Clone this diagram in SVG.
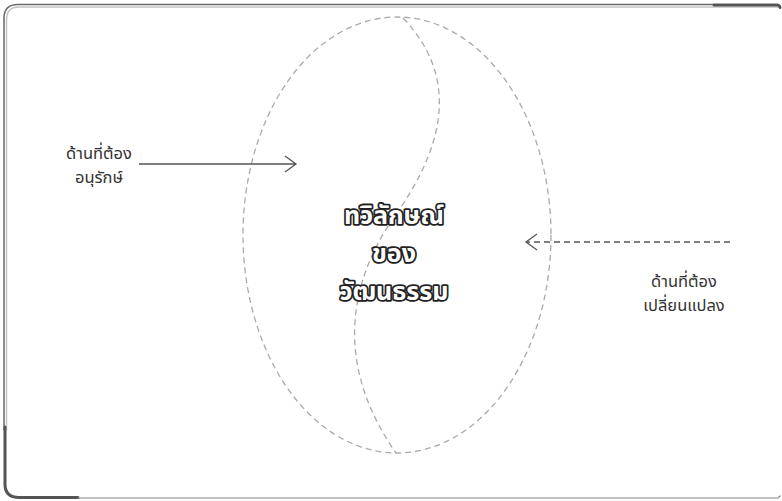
<svg xmlns="http://www.w3.org/2000/svg" width="782" height="501" viewBox="0 0 782 501">
<style>
.lbl{font-family:"Noto Sans","Noto Sans Thai",sans-serif;font-size:16.5px;fill:#333;text-anchor:middle}
.ttl{font-family:"Noto Sans","Noto Sans Thai",sans-serif;font-size:25px;font-weight:bold;fill:#fff;stroke:#222;stroke-width:3.6;paint-order:stroke;stroke-linejoin:round;text-anchor:middle}
.dash{fill:none;stroke:#aaa;stroke-width:1.3;stroke-dasharray:6 4}
.arr{fill:none;stroke:#555;stroke-width:1.3}
</style>
<rect width="782" height="501" fill="#fff"/>
<g id="frame" fill="none" stroke-linecap="round">
<path d="M6.5,430 V20 Q6.5,7 19,7 H778" stroke="#c4c4c4" stroke-width="1.5"/>
<path d="M4,430 V18 Q4,4.5 18,4.5 H714" stroke="#6a6a6a" stroke-width="1.5"/>
<path d="M714,5 H777 Q779.5,5 780,7.5" stroke="#555" stroke-width="3"/>
<path d="M5,427 V484 Q5,497.5 19,497.5 H78" stroke="#555" stroke-width="3"/>
<path d="M78,498 H778 L780,496" stroke="#888" stroke-width="1.2"/>
</g>
<g id="vessel">
<ellipse class="dash" cx="397" cy="235" rx="154" ry="218"/>
<path class="dash" d="M403,18 C472,90 428,170 392,220 C345,290 338,370 396,453"/>
</g>
<g id="connectors">
<path class="arr" d="M139,164 H296 M285,156 L296,164 L285,172"/>
<path class="arr" d="M730,242 H526" stroke-dasharray="6 4"/>
<path class="arr" d="M537,234 L526,242 L537,250"/>
</g>
<g id="node-conserve">
<text class="lbl" x="99" y="159">ด้านที่ต้อง</text>
<text class="lbl" x="99" y="183">อนุรักษ์</text>
</g>
<g id="node-change">
<text class="lbl" x="684" y="287">ด้านที่ต้อง</text>
<text class="lbl" x="684" y="311">เปลี่ยนแปลง</text>
</g>
<g id="node-title">
<text class="ttl" x="394" y="224">ทวิลักษณ์</text>
<text class="ttl" x="394" y="262">ของ</text>
<text class="ttl" x="394" y="300">วัฒนธรรม</text>
</g>
</svg>
